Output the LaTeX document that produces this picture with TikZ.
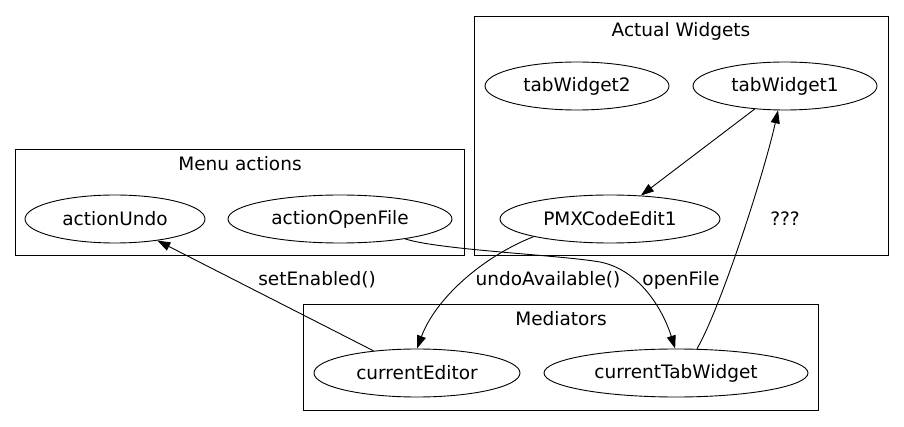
\documentclass[tikz,border=0pt]{standalone}
\usepackage{fontspec}
\setmainfont{DejaVu Sans}
\usetikzlibrary{shapes.geometric,arrows.meta}
\begin{document}
\begin{tikzpicture}[x=1pt,y=-1pt,
  every node/.style={font=\fontsize{18.5}{22}\selectfont},
  nd/.style={ellipse,draw,line width=0.9pt,inner sep=0pt,minimum height=48pt},
  cluster/.style={draw,line width=0.9pt},
  lbl/.style={inner sep=0pt},
  edge/.style={draw,line width=0.9pt,-{Triangle[length=13pt,width=9pt]}}]
\useasboundingbox (0,0) rectangle (904,427);
% clusters
\draw[cluster] (474,16) rectangle (888,255);
\node[lbl] (tAW) at (681,31) {Actual Widgets};
\draw[cluster] (15,149) rectangle (464,255);
\node[lbl] (tMA) at (240,164) {Menu actions};
\draw[cluster] (303,304) rectangle (818,410);
\node[lbl] (tMe) at (561,319) {Mediators};
% nodes
\node[nd,minimum width=184pt] (tw2) at (577,86) {tabWidget2};
\node[nd,minimum width=184pt] (tw1) at (785,86) {tabWidget1};
\node[nd,minimum width=220pt] (pmx) at (610,219) {PMXCodeEdit1};
\node[lbl] (qqq) at (785,219) {???};
\node[nd,minimum width=180pt] (undo) at (115,219) {actionUndo};
\node[nd,minimum width=224pt] (aof) at (340,219) {actionOpenFile};
\node[nd,minimum width=206pt] (ced) at (417,373) {currentEditor};
\node[nd,minimum width=264pt] (ctw) at (676,373) {currentTabWidget};
% edges
\draw[edge] (tw1) -- (pmx);
\draw[edge] (ced) -- (undo);
\node[lbl] (lse) at (317,280) {setEnabled()};
\draw[edge] (pmx.193) .. controls (480,258) and (435,300) .. (ced.north);
\node[lbl] (lua) at (548,280) {undoAvailable()};
\coordinate (mid) at (600,262);
\draw[edge] (aof.-17) .. controls (440,250) and (560,255) .. (mid) .. controls (640,270) and (663,310) .. (ctw.92);
\node[lbl] (lof) at (681,280) {openFile};
\draw[edge] (ctw.49) .. controls (722,305) and (765,170) .. (tw1.254);
\end{tikzpicture}
\end{document}
